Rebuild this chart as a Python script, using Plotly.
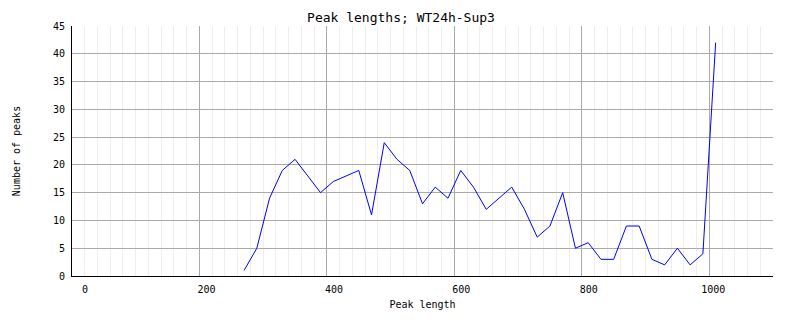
import plotly.graph_objects as go

peak_length = [270, 290, 310, 330, 350, 370, 390, 410, 430, 450, 470, 490, 510, 530,
               550, 570, 590, 610, 630, 650, 670, 690, 710, 730, 750, 770, 790, 810,
               830, 850, 870, 890, 910, 930, 950, 970, 990, 1010]
num_peaks = [1, 5, 14, 19, 21, 18, 15, 17, 18, 19, 11, 24, 21, 19,
             13, 16, 14, 19, 16, 12, 14, 16, 12, 7, 9, 15, 5, 6,
             3, 3, 9, 9, 3, 2, 5, 2, 4, 42]

x_tick_values = [0, 200, 400, 600, 800, 1000]
x_tick_labels = ["0", "200", "400", "600", "800", "1000"]

title_text = "Peak lengths; WT24h-Sup3"
x_title = "Peak length"
y_title = "Number of peaks"

FONT = "DejaVu Sans Mono"

# labels in the reference are right-aligned just past each gridline: pad to equal width
pad_to = max(len(s) for s in x_tick_labels)
x_tick_text = ["\u00a0" * (pad_to - len(s)) + s for s in x_tick_labels]

fig = go.Figure()
fig.add_trace(go.Scatter(x=peak_length, y=num_peaks, mode="lines",
                         line=dict(color="#0000ff", width=1), showlegend=False))

fig.update_layout(
    width=802, height=328,
    margin=dict(l=72, r=29, t=26, b=52),
    paper_bgcolor="white", plot_bgcolor="white",
    font=dict(family=FONT, size=10, color="black"),
    title=dict(text=title_text, x=0.5, xanchor="center", y=1 - 17 / 328, yanchor="middle",
               font=dict(family=FONT, size=13, color="black")),
    xaxis=dict(
        range=[0, 1100], tickmode="array", tickvals=x_tick_values, ticktext=x_tick_text,
        showgrid=True, gridcolor="#aaaaaa", gridwidth=1,
        zeroline=False, showline=True, linecolor="black", linewidth=1,
        ticks="", ticklabelshift=4, ticklabelstandoff=4,
        minor=dict(tickmode="linear", tick0=0, dtick=20, showgrid=True,
                   gridcolor="#eeeeee", gridwidth=1, ticks=""),
        title=dict(text=x_title, standoff=6, font=dict(family=FONT, size=10)),
        fixedrange=True,
    ),
    yaxis=dict(
        range=[0, 45], dtick=5, tick0=0,
        showgrid=True, gridcolor="#aaaaaa", gridwidth=1,
        zeroline=False, showline=True, linecolor="black", linewidth=1,
        ticks="", ticklabelstandoff=4,
        title=dict(text=y_title, standoff=30, font=dict(family=FONT, size=10)),
        fixedrange=True,
    ),
)

fig.write_html("out.html")
